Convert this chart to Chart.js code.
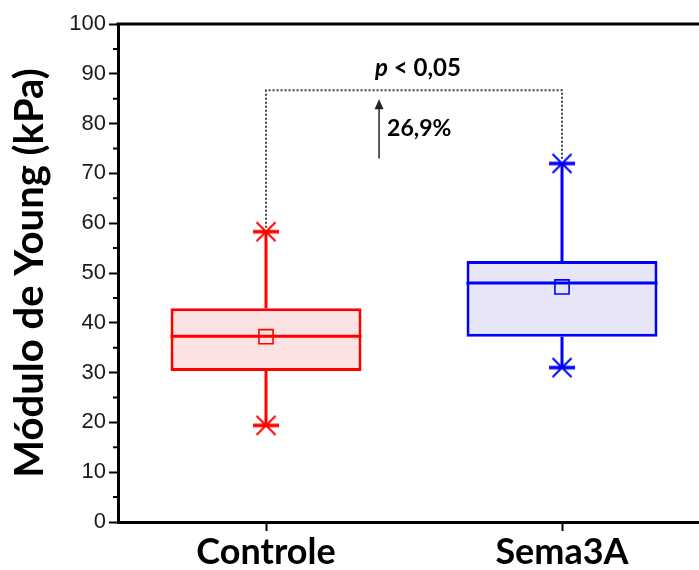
<!DOCTYPE html>
<html>
<head>
<meta charset="utf-8">
<script src="https://cdn.jsdelivr.net/npm/chart.js@4.4.1/dist/chart.umd.min.js"></script>
<style>
  html, body { margin: 0; padding: 0; background: #fff; overflow: hidden; }
  #wrap { width: 699px; height: 570px; }
</style>
</head>
<body>
<div id="wrap"><canvas id="young-chart" width="699" height="570"></canvas></div>
<script>
/*********************************
 * DATA    *
 *********************************/
const groups = ["Controle", "Sema3A"];
const whiskerLow = [19.4, 31.0];
const q1 = [30.3, 37.2];
const medians = [37.3, 48.0];
const q3 = [42.9, 52.4];
const whiskerHigh = [58.3, 72.0];
const means = [37.2, 47.2];
const yMinorTicks = [5, 15, 25, 35, 45, 55, 65, 75, 85, 95];

// significance annotation (in axis units)
const bracketLevel = 86.7;
const pLabel = ["p", " < 0,05"];
const pLabelLevel = 91.2;
const arrowPos = 0.382;
const arrowFrom = 73.0;
const arrowTo = 84.9;
const changeLabel = "26,9%";
const changeLabelLevel = 79.0;

const strokeColors = ['#ff0000', '#0000ff'];
const fillColors = ['#fce3e3', '#e6e6f6'];

// asterisk marker used for whisker ends
function makeAsterisk(color) {
  const c = document.createElement('canvas');
  c.width = 30; c.height = 30;
  const g = c.getContext('2d');
  g.strokeStyle = color;
  g.lineWidth = 3.5;
  g.beginPath(); g.moveTo(2, 15); g.lineTo(28, 15); g.stroke();
  g.lineWidth = 2;
  g.beginPath();
  g.moveTo(5.5, 5.5); g.lineTo(24.5, 24.5);
  g.moveTo(24.5, 5.5); g.lineTo(5.5, 24.5);
  g.stroke();
  return c;
}
const asterisks = strokeColors.map(makeAsterisk);

const atGroups = vals => vals.map((v, i) => ({ x: i, y: v }));

/*********************************
 * PLUGIN: whiskers, frame, notes *
 *********************************/
const boxExtras = {
  id: 'boxExtras',
  afterDatasetDraw(chart, args) {
    if (args.index !== 0) return;
    const { ctx, scales: { y } } = chart;
    const bars = chart.getDatasetMeta(0).data;
    ctx.save();
    ctx.lineWidth = 3;
    bars.forEach((bar, i) => {
      const half = bar.width / 2;
      ctx.strokeStyle = strokeColors[i];
      ctx.beginPath();
      ctx.moveTo(bar.x, y.getPixelForValue(q3[i]));
      ctx.lineTo(bar.x, y.getPixelForValue(whiskerHigh[i]));
      ctx.moveTo(bar.x, y.getPixelForValue(q1[i]));
      ctx.lineTo(bar.x, y.getPixelForValue(whiskerLow[i]));
      ctx.moveTo(bar.x - half, y.getPixelForValue(medians[i]));
      ctx.lineTo(bar.x + half, y.getPixelForValue(medians[i]));
      ctx.stroke();
    });
    ctx.restore();
  },
  afterDraw(chart) {
    const { ctx, chartArea, scales: { x, y } } = chart;
    ctx.save();
    // top frame line
    ctx.strokeStyle = '#000';
    ctx.lineWidth = 3;
    ctx.beginPath();
    ctx.moveTo(chartArea.left - 1.5, chartArea.top);
    ctx.lineTo(chartArea.right, chartArea.top);
    ctx.stroke();
    // minor ticks
    ctx.lineWidth = 2;
    ctx.beginPath();
    yMinorTicks.forEach(v => {
      const py = y.getPixelForValue(v);
      ctx.moveTo(chartArea.left - 5, py);
      ctx.lineTo(chartArea.left, py);
    });
    ctx.stroke();

    // dotted bracket
    const by = y.getPixelForValue(bracketLevel);
    const x0 = x.getPixelForValue(0), x1 = x.getPixelForValue(1);
    ctx.strokeStyle = '#444';
    ctx.lineWidth = 2;
    ctx.setLineDash([2, 2]);
    ctx.beginPath();
    ctx.moveTo(x0, y.getPixelForValue(whiskerHigh[0]) - 4);
    ctx.lineTo(x0, by);
    ctx.lineTo(x1, by);
    ctx.lineTo(x1, y.getPixelForValue(whiskerHigh[1]) - 4);
    ctx.stroke();
    ctx.setLineDash([]);

    // arrow
    const ax = x.getPixelForValue(arrowPos);
    const tip = y.getPixelForValue(arrowTo);
    ctx.strokeStyle = '#333';
    ctx.fillStyle = '#222';
    ctx.lineWidth = 1.6;
    ctx.beginPath();
    ctx.moveTo(ax, y.getPixelForValue(arrowFrom));
    ctx.lineTo(ax, tip + 8);
    ctx.stroke();
    ctx.beginPath();
    ctx.moveTo(ax, tip);
    ctx.lineTo(ax - 4.5, tip + 10);
    ctx.lineTo(ax + 4.5, tip + 10);
    ctx.closePath();
    ctx.fill();

    // texts
    ctx.fillStyle = '#000';
    ctx.textBaseline = 'middle';
    const italic = 'italic bold 24px Lato';
    const bold = 'bold 24px Lato';
    ctx.font = italic;
    const w0 = ctx.measureText(pLabel[0]).width;
    ctx.font = bold;
    const w1 = ctx.measureText(pLabel[1]).width;
    let tx = (x0 + x1) / 2 + 4 - (w0 + w1) / 2;
    const ty = y.getPixelForValue(pLabelLevel);
    ctx.textAlign = 'left';
    ctx.font = italic;
    ctx.fillText(pLabel[0], tx, ty);
    ctx.font = bold;
    ctx.fillText(pLabel[1], tx + w0, ty);
    ctx.font = 'bold 23px Lato';
    ctx.fillText(changeLabel, ax + 8, y.getPixelForValue(changeLabelLevel));
    ctx.restore();
  }
};

/*********************************
 * CHART                         *
 *********************************/
const youngCanvas = document.getElementById('young-chart').getContext('2d');

let youngData = {
  datasets: [{
    type: 'bar',
    data: groups.map((g, i) => ({ x: i, y: [q1[i], q3[i]] })),
    backgroundColor: fillColors,
    borderColor: strokeColors,
    borderWidth: 3,
    borderSkipped: false,
    barPercentage: 0.645,
    categoryPercentage: 1,
    grouped: false,
    order: 2
  }, {
    type: 'line',
    data: atGroups(whiskerHigh),
    showLine: false,
    pointStyle: asterisks,
    order: 1
  }, {
    type: 'line',
    data: atGroups(whiskerLow),
    showLine: false,
    pointStyle: asterisks,
    order: 1
  }, {
    type: 'line',
    data: atGroups(means),
    showLine: false,
    pointStyle: 'rect',
    pointRadius: 10,
    pointBorderWidth: 1.6,
    pointBorderColor: strokeColors,
    pointBackgroundColor: 'rgba(0,0,0,0)',
    order: 0
  }]
};

let youngOptions = {
  responsive: false,
  animation: false,
  layout: { autoPadding: false, padding: { top: 24, right: 0, left: 0, bottom: 0 } },
  scales: {
    x: {
      type: 'linear',
      min: -0.5,
      max: 1.4628,
      offset: false,
      afterBuildTicks: s => { s.ticks = groups.map((g, i) => ({ value: i })); },
      grid: { display: true, drawOnChartArea: false, offset: false, tickLength: 9, tickWidth: 2, tickColor: '#000' },
      border: { display: true, color: '#000', width: 3 },
      ticks: {
        color: '#000',
        padding: 0,
        maxRotation: 0,
        autoSkip: false,
        font: { family: 'Lato', weight: 'bold', size: 36 },
        callback: v => groups[v]
      },
      afterFit: s => { s.height = 48; s.paddingLeft = 0; s.paddingRight = 0; }
    },
    y: {
      min: 0,
      max: 100,
      ticks: { stepSize: 10, color: '#1a1a1a', padding: 3, font: { family: 'Liberation Sans', size: 22 } },
      grid: { drawOnChartArea: false, tickLength: 9, tickWidth: 2, tickColor: '#000' },
      border: { display: true, color: '#000', width: 3 },
      title: {
        display: true,
        text: 'Módulo de Young (kPa)',
        color: '#000',
        padding: { top: 6, bottom: 0 },
        font: { family: 'Lato', weight: 'bold', size: 40 }
      },
      afterFit: s => { s.width = 118; }
    }
  },
  plugins: {
    legend: { display: false },
    tooltip: { enabled: false }
  }
};

let youngChart = new Chart(youngCanvas, {
  data: youngData,
  options: youngOptions,
  plugins: [boxExtras]
});
</script>
</body>
</html>
